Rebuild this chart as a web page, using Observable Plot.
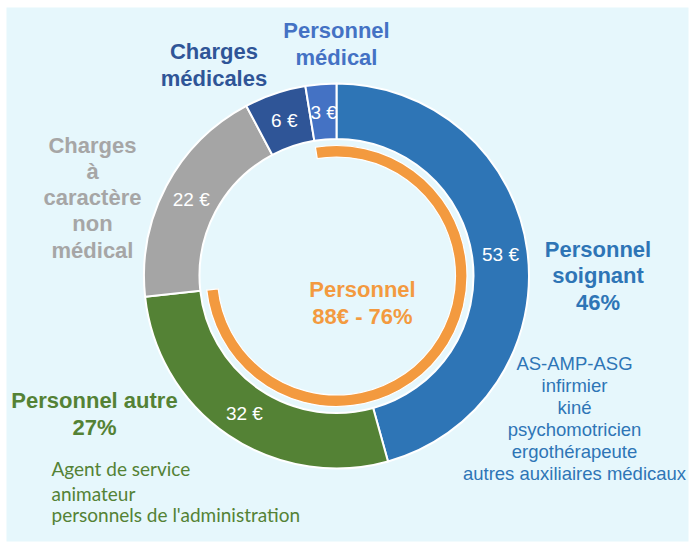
<!DOCTYPE html>
<html><head><meta charset="utf-8">
<script src="https://cdn.jsdelivr.net/npm/d3@7"></script>
<script src="https://cdn.jsdelivr.net/npm/@observablehq/plot@0.6"></script>
<style>
body{margin:0;background:#fff;}
#chart svg{display:block;}
</style>
</head><body><div id="chart"></div>
<script>
// ---- data ----
const categories = ["Personnel soignant", "Personnel autre", "Charges à caractère non médical", "Charges médicales", "Personnel médical"];
const values = [53, 32, 22, 6, 3];
const isPersonnel = [true, true, false, false, true];
const valueLabels = ["53 €", "32 €", "22 €", "6 €", "3 €"];
const sliceColors = ["#2E75B6", "#548235", "#A5A5A5", "#2F5597", "#4472C4"];
const categoryLines = [
  ["Personnel", "soignant", "46%"],
  ["Personnel autre", "27%"],
  ["Charges", "à", "caractère", "non", "médical"],
  ["Charges", "médicales"],
  ["Personnel", "médical"]
];
const personnelLines = ["Personnel", "88€ - 76%"];
const soignantDetails = ["AS-AMP-ASG", "infirmier", "kiné", "psychomotricien", "ergothérapeute", "autres auxiliaires médicaux"];
const autreDetails = ["Agent de service", "animateur", "personnels de l'administration"];

// ---- layout ----
const W = 690, H = 542;
const C = {x: 336.5, y: 276};
const R = {outer: 192.5, inner: 137, ringOuter: 130.5, ringInner: 119, label: 165};
const orange = "#F39A3F";
const bg = "#E6F7FC";

const slices = categories.map((c, i) => ({category: c, value: values[i], personnel: isPersonnel[i], color: sliceColors[i], label: valueLabels[i]}));
const total = d3.sum(values);
const arcs = d3.pie().sort(null).value(d => d.value).startAngle(0).endAngle(2 * Math.PI)(slices);

// personnel ring: contiguous personnel slices (cyclic)
let ringStart = 0, ringEnd = 0;
{
  const n = arcs.length;
  // find the first personnel slice whose predecessor is not personnel
  let s = arcs.findIndex((a, i) => a.data.personnel && !arcs[(i - 1 + n) % n].data.personnel);
  let e = s;
  while (arcs[(e + 1) % n].data.personnel && (e + 1) % n !== s) e = (e + 1) % n;
  ringStart = arcs[s].startAngle;
  ringEnd = arcs[e].endAngle;
  if (ringStart > ringEnd) ringStart -= 2 * Math.PI;
}
const personnelTotal = d3.sum(slices.filter(d => d.personnel), d => d.value);

const mid = a => (a.startAngle + a.endAngle) / 2;

function donut(index, scales) {
  const g = d3.create("svg:g");
  const px = scales.x(C.x), py = scales.y(C.y);
  const gen = d3.arc().innerRadius(R.inner).outerRadius(R.outer);
  g.append("g").attr("transform", `translate(${px},${py})`)
    .selectAll("path").data(arcs).join("path")
    .attr("d", gen)
    .attr("fill", d => d.data.color)
    .attr("stroke", "white")
    .attr("stroke-width", 2)
    .attr("stroke-linejoin", "round");
  g.append("path").attr("transform", `translate(${px},${py})`)
    .attr("d", d3.arc().innerRadius(R.ringInner).outerRadius(R.ringOuter)({startAngle: ringStart, endAngle: ringEnd}))
    .attr("fill", orange)
    .attr("stroke", "white")
    .attr("stroke-width", 1.2);
  return g.node();
}

const boldFont = "'Liberation Sans', Arial, sans-serif";
const bold = (lines, x, y, fill, lh = 1.19) => Plot.text([lines.join("\n")], {
  x: () => x, y: () => y, text: d => d, fill, fontSize: 22, fontWeight: "bold",
  fontFamily: boldFont, textAnchor: "middle", lineAnchor: "bottom", lineHeight: lh
});

const chart = Plot.plot({
  width: W, height: H, margin: 0,
  x: {domain: [0, W], range: [0, W], axis: null},
  y: {domain: [0, H], range: [0, H], axis: null},
  style: {background: "white", overflow: "visible"},
  marks: [
    Plot.frame({fill: bg, stroke: "none", insetLeft: 6, insetTop: 7, insetRight: 2, insetBottom: 1}),
    donut,
    Plot.text(arcs, {
      x: d => C.x + R.label * Math.sin(mid(d)),
      y: d => C.y - R.label * Math.cos(mid(d)),
      text: d => d.data.label,
      fill: "white", fontSize: 19, fontFamily: boldFont, textAnchor: "middle", dy: 1
    }),
    bold(categoryLines[4], 336, 64, "#4472C4"),
    bold(categoryLines[3], 213.5, 85, "#2F5597"),
    bold(categoryLines[2], 92, 257, "#A6A6A6"),
    bold(categoryLines[0], 597.5, 309, "#2E75B6", 1.2),
    bold(categoryLines[1], 94, 434, "#548235"),
    bold(personnelLines, 362, 323, orange, 1.22),
    Plot.text([soignantDetails.join("\n")], {
      x: () => 574, y: () => 479, text: d => d, fill: "#2E75B6", fontSize: 18.5,
      fontFamily: boldFont, textAnchor: "middle", lineAnchor: "bottom", lineHeight: 1.18
    }),
    Plot.text([autreDetails[0]], {
      x: () => 51, y: () => 475, text: d => d, fill: "#548235", fontSize: 19,
      fontFamily: "Lato, sans-serif", textAnchor: "start", lineAnchor: "bottom"
    }),
    Plot.text([autreDetails.slice(1).join("\n")], {
      x: () => 51, y: () => 521, text: d => d, fill: "#548235", fontSize: 19,
      fontFamily: "Lato, sans-serif", textAnchor: "start", lineAnchor: "bottom", lineHeight: 1.1
    })
  ]
});
document.getElementById("chart").append(chart);
</script>
</body></html>
